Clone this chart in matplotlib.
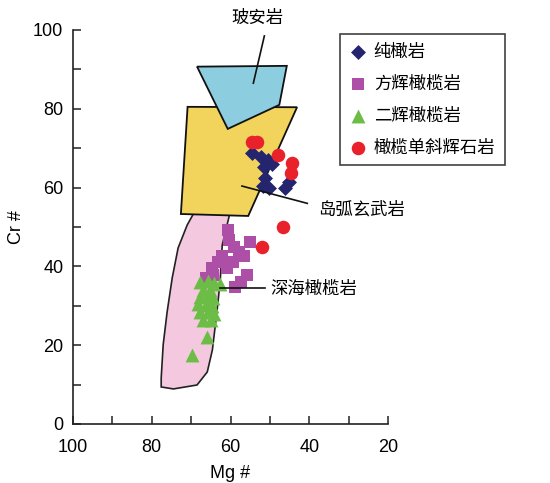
import matplotlib
matplotlib.use("Agg")
import matplotlib.pyplot as plt
from matplotlib.patches import Polygon
from matplotlib.ticker import MultipleLocator

plt.rcParams['font.family'] = ['Liberation Sans', 'Noto Sans CJK SC']

# discrimination fields (Mg#, Cr#)
boninite_field = [(68.5, 90.7), (45.7, 90.9), (47.6, 81.0), (60.7, 74.9)]
arc_basalt_field = [(70.9, 80.5), (43.1, 80.4), (55.5, 52.8), (72.6, 53.3)]
abyssal_field = [(59.8, 55.0), (62.1, 45.4), (62.6, 36.5), (63.4, 28.9), (64.6, 18.8),
                 (65.9, 13.2), (68.5, 9.9), (74.5, 8.9), (77.6, 9.4), (77.6, 11.7),
                 (77.1, 20.1), (76.1, 28.4), (74.8, 37.1), (73.3, 44.7), (71.0, 50.5),
                 (68.5, 55.0)]

# samples
dunite_mg = [54.5, 52.2, 50.4, 51.4, 49.5, 51.2, 51.7, 50.3, 45.1, 46.1]
dunite_cr = [68.8, 67.8, 67.0, 65.2, 66.0, 62.4, 60.4, 60.0, 61.4, 59.9]

harz_mg = [60.6, 60.3, 59.1, 55.0, 57.8, 56.5, 62.1, 63.1, 59.3, 64.6, 60.8, 55.8,
           57.3, 58.8, 66.2, 64.4]
harz_cr = [49.2, 46.7, 44.9, 46.2, 43.7, 42.6, 42.6, 41.1, 41.1, 39.6, 39.6, 37.8,
           36.0, 34.8, 37.1, 37.8]

lherz_mg = [67.7, 65.7, 64.1, 62.6, 66.9, 65.2, 67.7, 65.7, 64.4, 68.2, 66.2, 64.6,
            67.7, 65.7, 64.1, 66.9, 64.9, 66.0, 69.8]
lherz_cr = [36.0, 36.3, 35.8, 35.5, 34.0, 34.0, 32.2, 32.5, 32.0, 30.5, 30.2, 29.9,
            28.4, 28.4, 27.9, 26.4, 26.4, 22.2, 17.5]

ocpx_mg = [54.5, 53.2, 47.9, 44.3, 44.6, 46.6, 51.9]
ocpx_cr = [71.6, 71.6, 68.3, 66.2, 63.7, 50.0, 44.9]

legend_labels = ['纯橄岩', '方辉橄榄岩', '二辉橄榄岩', '橄榄单斜辉石岩']

fig = plt.figure(figsize=(5.5, 4.83), dpi=100)
ax = fig.add_axes([73 / 550, 59 / 483, 315 / 550, 394 / 483])

ax.add_patch(Polygon(abyssal_field, closed=True, fc='#f4c8de', ec='#222222', lw=1.2, zorder=1))
ax.add_patch(Polygon(arc_basalt_field, closed=True, fc='#f2d35c', ec='#111111', lw=1.3, zorder=2))
ax.add_patch(Polygon(boninite_field, closed=True, fc='#8ccde0', ec='#111111', lw=1.3, zorder=3))

h_harz = ax.scatter(harz_mg, harz_cr, marker='s', s=70, c='#ad4fa6', lw=0, zorder=5)
h_lherz = ax.scatter(lherz_mg, lherz_cr, marker='^', s=100, c='#6cbd45', lw=0, zorder=6)
h_dun = ax.scatter(dunite_mg, dunite_cr, marker='D', s=58, c='#25256f', lw=0, zorder=7)
h_ocpx = ax.scatter(ocpx_mg, ocpx_cr, marker='o', s=95, c='#e8212b', lw=0, zorder=8)

# field names with leader lines
ax.plot([54.2, 51.4], [86.5, 98.5], color='#111111', lw=1.2, zorder=9, clip_on=False)
ax.text(53.2, 103.0, '玻安岩', fontsize=12.5, ha='center', va='center', clip_on=False)
ax.plot([57.1, 40.5], [60.4, 56.0], color='#111111', lw=1.2, zorder=9)
ax.text(37.8, 54.4, '岛弧玄武岩', fontsize=12.5, ha='left', va='center')
ax.plot([62.6, 51.2], [34.4, 34.4], color='#111111', lw=1.2, zorder=9)
ax.text(50.0, 34.4, '深海橄榄岩', fontsize=12.5, ha='left', va='center')

ax.set_xlim(100, 20)
ax.set_ylim(0, 100)
ax.xaxis.set_major_locator(MultipleLocator(20))
ax.xaxis.set_minor_locator(MultipleLocator(10))
ax.yaxis.set_major_locator(MultipleLocator(20))
ax.yaxis.set_minor_locator(MultipleLocator(10))
ax.tick_params(which='both', direction='in', length=6, width=1.1, color='#222222')
ax.tick_params(axis='x', which='major', labelsize=13, pad=11)
ax.tick_params(axis='y', which='major', labelsize=13, pad=7)
for side in ('top', 'right'):
    ax.spines[side].set_visible(False)
for side in ('left', 'bottom'):
    ax.spines[side].set_linewidth(1.2)
    ax.spines[side].set_color('#222222')

ax.set_xlabel('Mg #', fontsize=13, labelpad=6)
ax.set_ylabel('Cr #', fontsize=13, labelpad=6)

leg = ax.legend([h_dun, h_harz, h_lherz, h_ocpx], legend_labels,
                loc='upper left', bbox_to_anchor=(340 / 550, 1 - 34 / 483),
                bbox_transform=fig.transFigure, borderaxespad=0, fontsize=12.5,
                frameon=True, fancybox=False, handlelength=1.0, handletextpad=0.4,
                labelspacing=0.92, borderpad=0.55)
leg.get_frame().set_edgecolor('#111111')
leg.get_frame().set_linewidth(1.2)

fig.savefig('out.png', dpi=100)
